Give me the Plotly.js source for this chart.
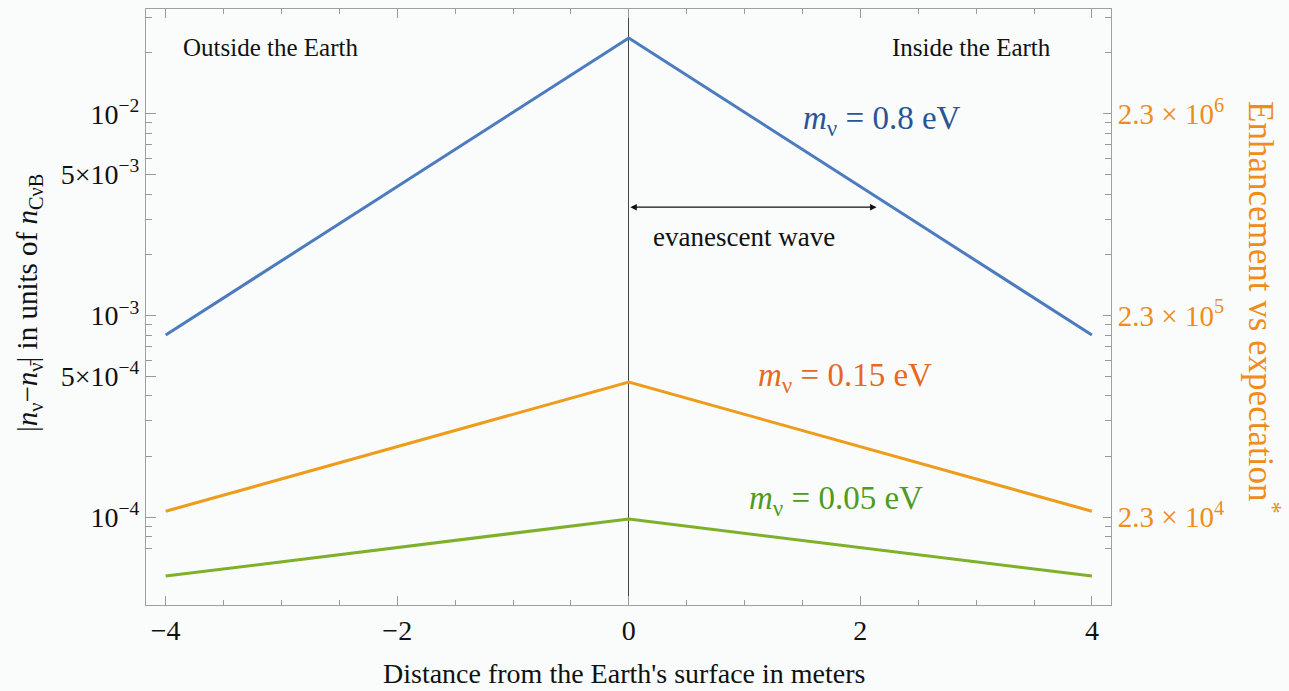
<!DOCTYPE html>
<html>
<head>
<meta charset="utf-8">
<script src="https://cdn.plot.ly/plotly-3.0.1.min.js"></script>
<style>html,body{margin:0;padding:0;background:#f9fcfb;}</style>
</head>
<body>
<div id="chart" style="width:1289px;height:691px;"></div>
<script>
// ---- data ----
const distance = [-4, 0, 4];
const blue_08eV = [8.0e-4, 2.37e-2, 8.0e-4];
const orange_015eV = [1.07e-4, 4.68e-4, 1.07e-4];
const green_005eV = [5.11e-5, 9.8e-5, 5.11e-5];
const seriesNames = ["m_ν = 0.8 eV", "m_ν = 0.15 eV", "m_ν = 0.05 eV"];

const xTickVals = [-4, -2, 0, 2, 4];
const xTickText = ["−4", "−2", "0", "2", "4"];
const xMinorVals = [-3.5, -3, -2.5, -1.5, -1, -0.5, 0.5, 1, 1.5, 2.5, 3, 3.5];
const yTickVals = [1e-4, 5e-4, 1e-3, 5e-3, 1e-2];
const yTickText = ["10<sup>−4</sup>", "5×10<sup>−4</sup>", "10<sup>−3</sup>", "5×10<sup>−3</sup>", "10<sup>−2</sup>"];
const yMinorVals = [7e-5, 8e-5, 9e-5, 2e-4, 3e-4, 4e-4, 6e-4, 7e-4, 8e-4, 9e-4,
                    2e-3, 3e-3, 4e-3, 6e-3, 7e-3, 8e-3, 9e-3, 2e-2, 3e-2];
const y2TickVals = [2.3e4, 2.3e5, 2.3e6];
const y2TickText = ["2.3 × 10<sup>4</sup>", "2.3 × 10<sup>5</sup>", "2.3 × 10<sup>6</sup>"];
const y2MinorVals = [1.61e4, 1.84e4, 2.07e4, 4.6e4, 6.9e4, 9.2e4, 1.15e5, 1.38e5, 1.61e5, 1.84e5, 2.07e5,
                     4.6e5, 6.9e5, 9.2e5, 1.15e6, 1.38e6, 1.61e6, 1.84e6, 2.07e6, 4.6e6, 6.9e6];
const enhancementFactor = 2.3e8;   // right axis = left axis × factor
const arrowEndX = 2.14;
const arrowLevel = 3.44e-3;

// ---- styling ----
const FONT = "Liberation Serif, Times New Roman, serif";
const cBlue = "#4c7bbf", cOrange = "#ee9c1c", cGreen = "#7eb02a";
const yLogRange = [-4.435, -1.481];

const traces = [
  {x: distance, y: blue_08eV, name: seriesNames[0], mode: "lines", line: {color: cBlue, width: 3}},
  {x: distance, y: orange_015eV, name: seriesNames[1], mode: "lines", line: {color: cOrange, width: 3}},
  {x: distance, y: green_005eV, name: seriesNames[2], mode: "lines", line: {color: cGreen, width: 3}},
  // enhancement scale (invisible, carries the right axis)
  {x: distance, y: blue_08eV.map(v => v * enhancementFactor), yaxis: "y2", mode: "lines",
   line: {color: cBlue, width: 0}, opacity: 0, hoverinfo: "skip", showlegend: false}
];

const L = 146, R = 1111, T = 9, B = 605;
const px = v => (v - L) / (R - L);
const py = v => 1 - (v - T) / (B - T);
const note = (x, y, text, size, color, extra) => Object.assign({
  xref: "paper", yref: "paper", x: px(x), y: py(y), text: text, showarrow: false,
  xanchor: "center", yanchor: "middle", font: {family: FONT, size: size, color: color}
}, extra || {});

const layout = {
  width: 1289, height: 691,
  margin: {l: L, r: 1289 - R, t: T, b: 691 - B, pad: 0},
  paper_bgcolor: "#f9fcfb", plot_bgcolor: "#f9fcfb",
  showlegend: false,
  font: {family: FONT, size: 27, color: "#111"},
  xaxis: {
    range: [-4.17, 4.165], tickmode: "array", tickvals: xTickVals, ticktext: xTickText,
    ticks: "inside", ticklen: 9, tickcolor: "#999", tickwidth: 1,
    showline: true, linecolor: "#a0a0a0", linewidth: 1, mirror: "ticks",
    showgrid: false, zeroline: true, zerolinecolor: "#444", zerolinewidth: 1,
    tickfont: {family: FONT, size: 28, color: "#111"},
    minor: {tickmode: "array", tickvals: xMinorVals, ticks: "inside", ticklen: 5, tickcolor: "#999", showgrid: false}
  },
  yaxis: {
    type: "log", range: yLogRange, tickmode: "array", tickvals: yTickVals, ticktext: yTickText,
    ticks: "inside", ticklen: 10, tickcolor: "#999", tickwidth: 1,
    showline: true, linecolor: "#a0a0a0", linewidth: 1,
    showgrid: false, zeroline: false,
    tickfont: {family: FONT, size: 28, color: "#111"},
    minor: {tickmode: "array", tickvals: yMinorVals, ticks: "inside", ticklen: 6, tickcolor: "#999", showgrid: false}
  },
  yaxis2: {
    type: "log", overlaying: "y", side: "right", anchor: "x",
    range: [yLogRange[0] + Math.log10(enhancementFactor), yLogRange[1] + Math.log10(enhancementFactor)],
    tickmode: "array", tickvals: y2TickVals, ticktext: y2TickText,
    ticks: "inside", ticklen: 8, tickcolor: "#999", tickwidth: 1,
    showline: true, linecolor: "#a0a0a0", linewidth: 1,
    showgrid: false, zeroline: false,
    tickfont: {family: FONT, size: 29, color: "#ef8c1a"},
    minor: {tickmode: "array", tickvals: y2MinorVals, ticks: "inside", ticklen: 6, tickcolor: "#999", showgrid: false}
  },
  annotations: [
    note(29, 303, "|<i>n</i><sub>ν</sub>−<i>n</i><sub>ν̄</sub>| in units of <i>n</i><sub>CνB</sub>", 29, "#111", {textangle: -90}),
    note(1264, 307, "Enhancement vs expectation<sup>*</sup>", 35, "#ef8c1a", {textangle: 90}),
    note(624, 673, "Distance from the Earth's surface in meters", 28, "#111"),
    note(270, 48, "Outside the Earth", 25, "#111"),
    note(971, 48, "Inside the Earth", 25, "#111"),
    note(744, 237, "evanescent wave", 27, "#111"),
    note(882, 120, "<i>m</i><sub>ν</sub> = 0.8 eV", 33, "#2a5594"),
    note(845, 377, "<i>m</i><sub>ν</sub> = 0.15 eV", 33, "#e66a1c"),
    note(836, 500, "<i>m</i><sub>ν</sub> = 0.05 eV", 33, "#4f9b22"),
    {xref: "x", yref: "y", x: arrowEndX, y: Math.log10(arrowLevel), axref: "x", ayref: "y",
     ax: 0, ay: Math.log10(arrowLevel), text: "", showarrow: true, arrowside: "end+start",
     arrowhead: 2, arrowsize: 1, arrowwidth: 1.3, arrowcolor: "#111", standoff: 0, startstandoff: 0}
  ]
};

Plotly.newPlot("chart", traces, layout, {displayModeBar: false, staticPlot: true});
</script>
</body>
</html>
